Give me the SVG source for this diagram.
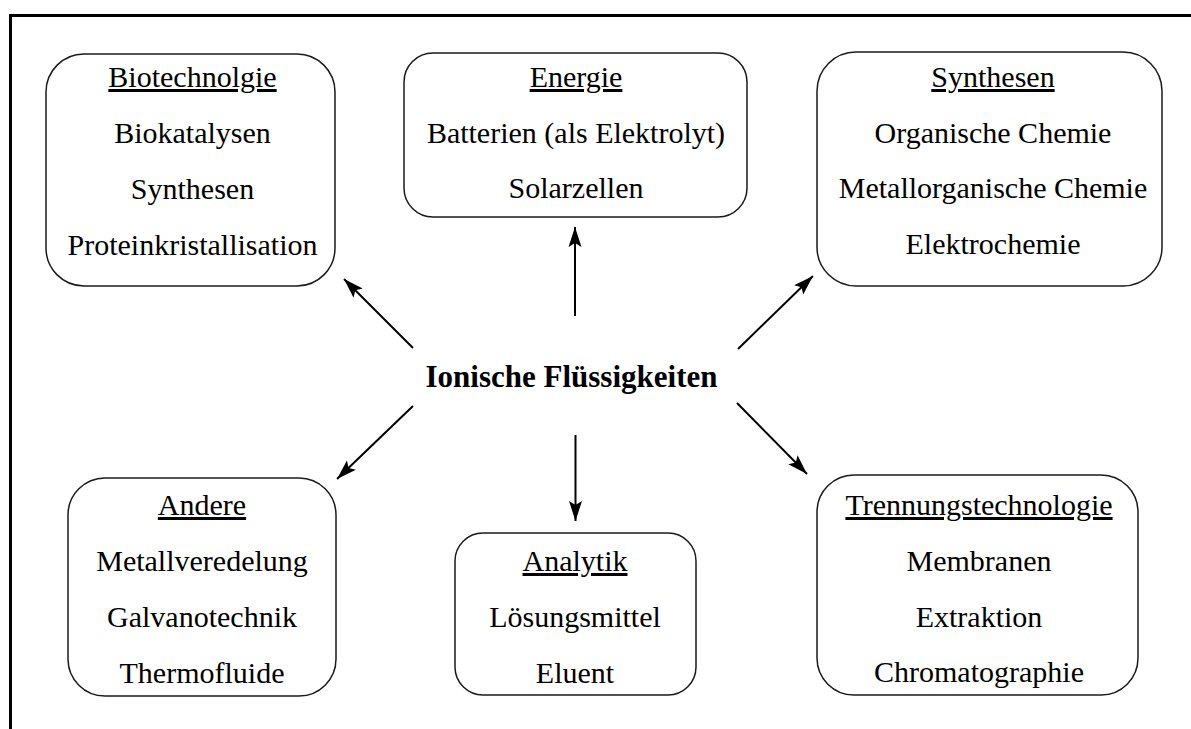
<svg xmlns="http://www.w3.org/2000/svg" width="1191" height="729" viewBox="0 0 1191 729">
<style>
.box{fill:#fff;stroke:#1a1a1a;stroke-width:1.5}
.t{font-family:"Liberation Serif","Times New Roman",serif;font-size:30px;fill:#000;text-anchor:middle}
.h{text-decoration:underline}
.c{font-family:"Liberation Serif","Times New Roman",serif;font-size:31px;font-weight:bold;fill:#000;text-anchor:middle}
.ar{stroke:#000;stroke-width:2;fill:none;marker-end:url(#ah)}
</style>
<defs>
<marker id="ah" markerUnits="userSpaceOnUse" viewBox="-21 -7 22 14" refX="0" refY="0" markerWidth="22" markerHeight="14" orient="auto">
<path d="M0,0 L-20,-6.5 L-16,0 L-20,6.5 Z" fill="#000"/>
</marker>
</defs>
<rect width="1191" height="729" fill="#fff"/>
<path d="M10.5,729 V15.5 H1191" fill="none" stroke="#000" stroke-width="3"/>
<g id="connectors">
<line class="ar" x1="413" y1="348" x2="344" y2="279"/>
<line class="ar" x1="575" y1="316" x2="575" y2="227"/>
<line class="ar" x1="738" y1="349" x2="813" y2="276"/>
<line class="ar" x1="413" y1="406" x2="337" y2="479"/>
<line class="ar" x1="575.5" y1="435" x2="575.5" y2="521"/>
<line class="ar" x1="737" y1="403" x2="807" y2="474"/>
</g>
<g id="center">
<text class="c" x="571.5" y="387">Ionische Flüssigkeiten</text>
</g>
<g id="biotechnologie">
<rect class="box" x="46" y="54" width="289" height="232" rx="38" ry="38"/>
<text class="t h" x="192.5" y="87">Biotechnolgie</text>
<text class="t" x="192.5" y="143">Biokatalysen</text>
<text class="t" x="192.5" y="199">Synthesen</text>
<text class="t" x="192.5" y="255">Proteinkristallisation</text>
</g>
<g id="energie">
<rect class="box" x="404" y="53" width="343" height="164" rx="29" ry="29"/>
<text class="t h" x="576" y="87">Energie</text>
<text class="t" x="576" y="143">Batterien (als Elektrolyt)</text>
<text class="t" x="576" y="198">Solarzellen</text>
</g>
<g id="synthesen">
<rect class="box" x="817" y="52" width="345" height="234" rx="39" ry="39"/>
<text class="t h" x="993" y="87">Synthesen</text>
<text class="t" x="993" y="143">Organische Chemie</text>
<text class="t" x="993" y="198">Metallorganische Chemie</text>
<text class="t" x="993" y="254">Elektrochemie</text>
</g>
<g id="andere">
<rect class="box" x="68" y="478" width="268" height="218" rx="37" ry="37"/>
<text class="t h" x="202" y="515">Andere</text>
<text class="t" x="202" y="571">Metallveredelung</text>
<text class="t" x="202" y="627">Galvanotechnik</text>
<text class="t" x="202" y="683">Thermofluide</text>
</g>
<g id="analytik">
<rect class="box" x="455" y="533" width="241" height="162" rx="28" ry="28"/>
<text class="t h" x="575" y="571">Analytik</text>
<text class="t" x="575" y="627">Lösungsmittel</text>
<text class="t" x="575" y="683">Eluent</text>
</g>
<g id="trennungstechnologie">
<rect class="box" x="817" y="475" width="321" height="220" rx="37" ry="37"/>
<text class="t h" x="979" y="515">Trennungstechnologie</text>
<text class="t" x="979" y="571">Membranen</text>
<text class="t" x="979" y="627">Extraktion</text>
<text class="t" x="979" y="682">Chromatographie</text>
</g>
</svg>
